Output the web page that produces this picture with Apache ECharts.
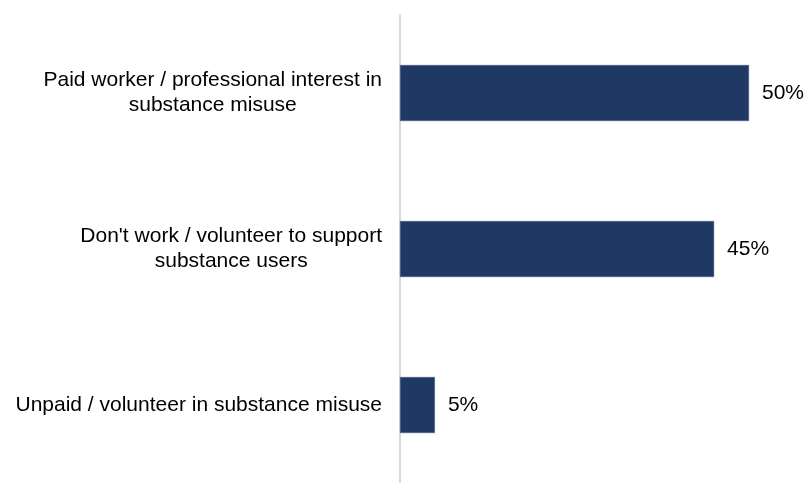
<!DOCTYPE html>
<html>
<head>
<meta charset="utf-8">
<script src="https://cdn.jsdelivr.net/npm/echarts@6/dist/echarts.min.js"></script>
<style>
  html, body { margin: 0; padding: 0; background: #ffffff; }
  #chart { width: 806px; height: 483px; }
</style>
</head>
<body>
<div id="chart"></div>
<script>
// Respondent groups (top to bottom) and their share in percent
const categories = [
  'Paid worker / professional interest in\nsubstance misuse',
  "Don't work / volunteer to support\nsubstance users",
  'Unpaid / volunteer in substance misuse'
];
const shares = [50, 45, 5];

const FONT = 'Liberation Sans, Arial, sans-serif';

const chart = echarts.init(document.getElementById('chart'));

chart.setOption({
  backgroundColor: '#ffffff',
  animation: false,
  grid: { left: 400, top: 15, width: 349, height: 475, containLabel: false },
  xAxis: {
    type: 'value',
    min: 0,
    max: 50,
    show: false
  },
  yAxis: {
    type: 'category',
    data: categories,
    inverse: true,
    axisTick: { show: false },
    axisLine: { show: true, lineStyle: { color: '#d9d9d9', width: 2 } },
    axisLabel: {
      margin: 18,
      align: 'right',
      fontFamily: FONT,
      fontSize: 21,
      color: '#000000',
      lineHeight: 25,
      // each line is centred inside the right-aligned label block
      formatter: function (v) {
        return v.split('\n').map(function (l) { return '{c|' + l + '}'; }).join('\n');
      },
      rich: {
        c: {
          align: 'center',
          fontFamily: FONT,
          fontSize: 21,
          color: '#000000',
          lineHeight: 25
        }
      }
    }
  },
  series: [{
    type: 'bar',
    data: shares,
    barWidth: 56,
    itemStyle: { color: '#203864', borderColor: '#4a5f88', borderWidth: 0.5 },
    label: {
      show: true,
      position: 'right',
      distance: 13,
      formatter: '{c}%',
      fontFamily: FONT,
      fontSize: 21,
      color: '#000000'
    }
  }]
});
</script>
</body>
</html>
